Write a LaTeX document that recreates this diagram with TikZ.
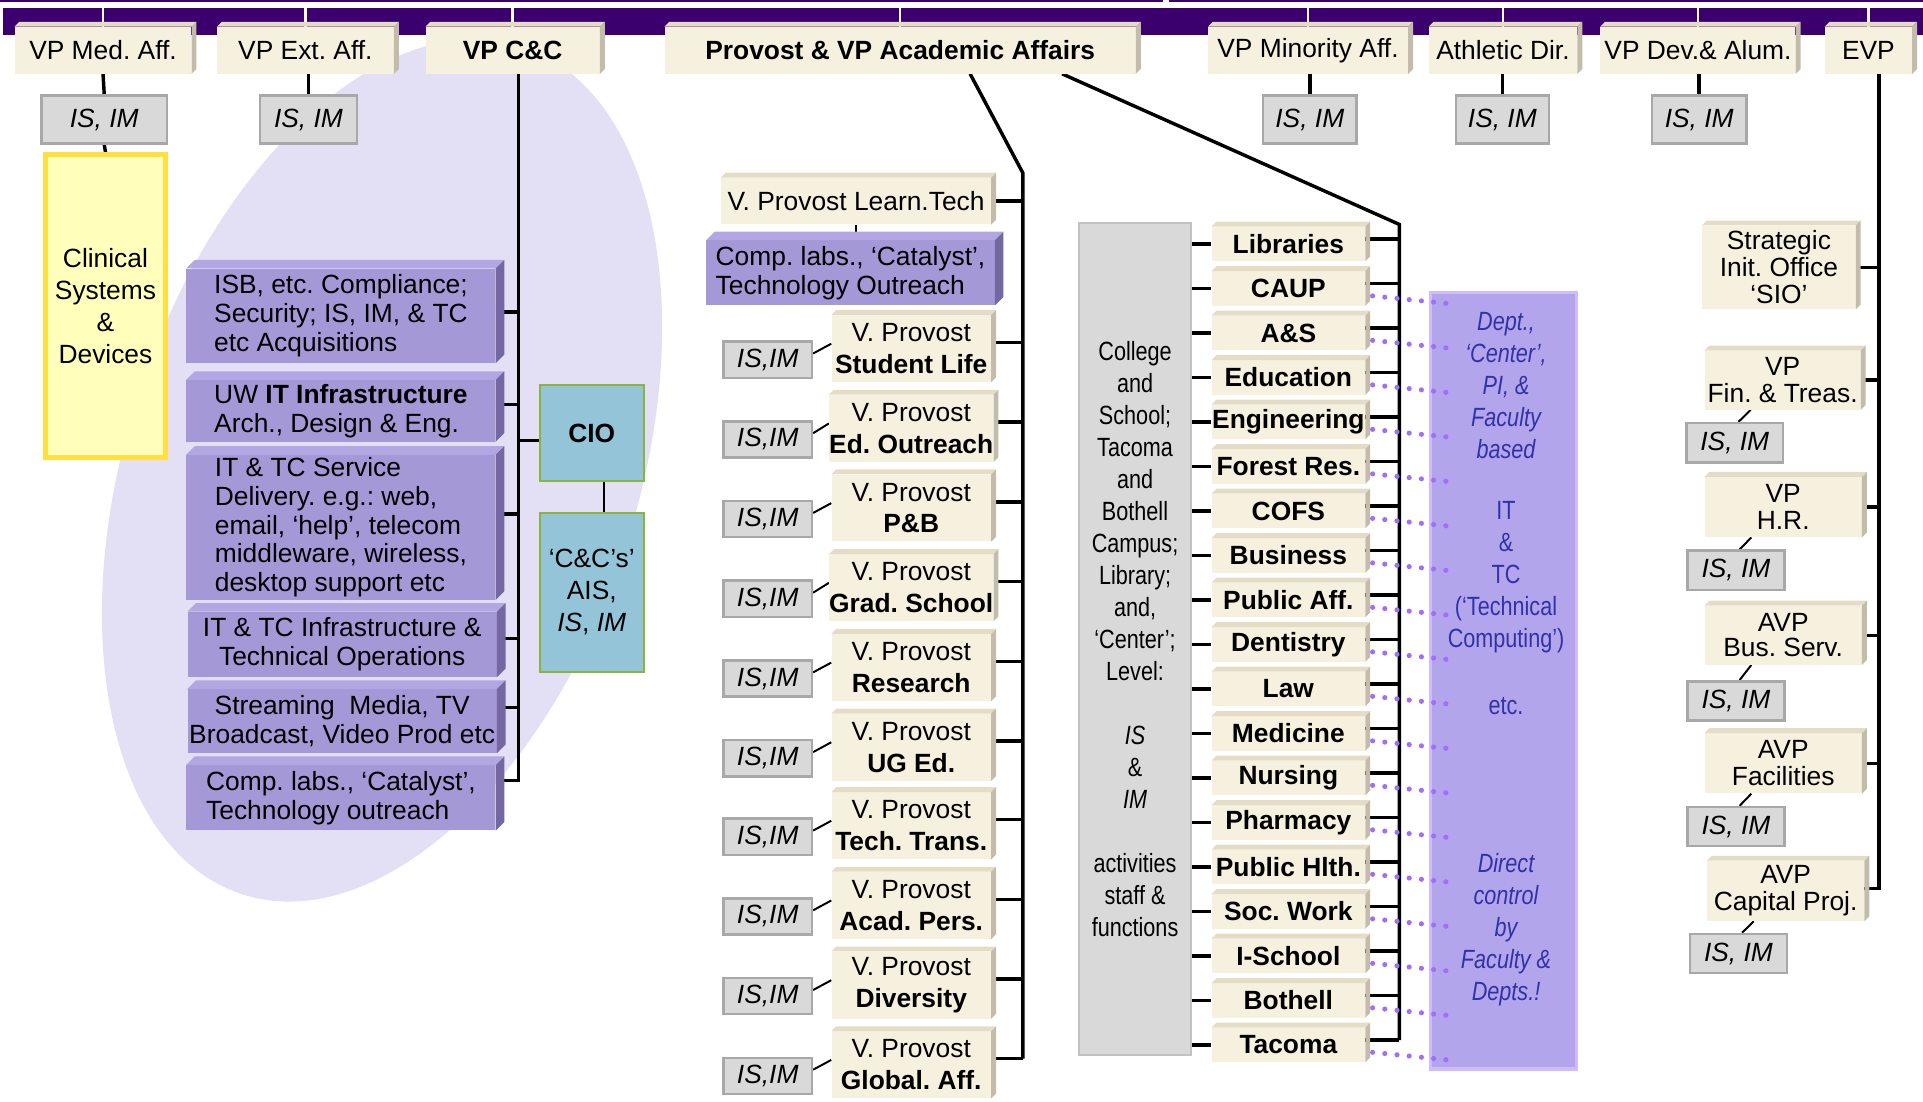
\documentclass[tikz,border=0pt]{standalone}
\usepackage{fontspec}
\setmainfont{Liberation Sans}
\newfontfamily\narrowfont[FakeStretch=0.82]{Liberation Sans}
\usetikzlibrary{calc}
\pgfdeclarelayer{back}
\pgfdeclarelayer{bg}
\pgfsetlayers{back,bg,main}
\definecolor{barP}{RGB}{60,0,110}
\definecolor{beigeF}{RGB}{246,241,222}
\definecolor{beigeT}{RGB}{228,221,198}
\definecolor{beigeS}{RGB}{196,188,170}
\definecolor{purF}{RGB}{164,152,214}
\definecolor{purT}{RGB}{178,167,226}
\definecolor{purS}{RGB}{116,104,162}
\definecolor{ellC}{RGB}{227,224,246}
\definecolor{grayF}{RGB}{217,217,217}
\definecolor{grayB}{RGB}{168,168,168}
\definecolor{yelF}{RGB}{255,255,187}
\definecolor{yelB}{RGB}{255,224,64}
\definecolor{cioF}{RGB}{147,196,216}
\definecolor{cioB}{RGB}{140,180,60}
\definecolor{colF}{RGB}{178,165,236}
\definecolor{colB}{RGB}{206,188,252}
\definecolor{colT}{RGB}{50,50,168}
\definecolor{dotC}{RGB}{160,110,250}
\newcommand\fA{\fontsize{21.5bp}{23.5bp}\selectfont}
\newcommand\fB{\fontsize{21.5bp}{26bp}\selectfont}
\newcommand\fR{\fontsize{21.5bp}{22bp}\selectfont}
\newcommand\fN{\narrowfont\fontsize{21.5bp}{26.1bp}\selectfont}
\newcommand\bev[4]{%
 \fill[#3] (#1.north west) -- ([shift={(#2,-#2)}]#1.north west) -- ([shift={(#2,-#2)}]#1.north east) -- (#1.north east) -- cycle;
 \fill[#4] (#1.north east) -- ([shift={(#2,-#2)}]#1.north east) -- ([shift={(#2,-#2)}]#1.south east) -- (#1.south east) -- cycle;}
\frenchspacing
\begin{document}
\frenchspacing
\begin{tikzpicture}[x=1bp,y=-1bp,
  conn/.style={line width=2.8bp,black},
  thinc/.style={line width=1.6bp,black},
  beigeb/.style={fill=beigeF,inner sep=0pt,font=\fA,align=center},
  pb/.style={fill=purF,inner sep=0pt,font=\fA,minimum width=252bp},
  isb/.style={fill=grayF,draw=grayB,line width=2bp,inner sep=0pt,font=\fA\itshape},
  dotsty/.style={dotC,line width=4.2bp,line cap=round,dash pattern=on 0bp off 10bp}]
\useasboundingbox (0,0) rectangle (1568,898);

\begin{pgfonlayer}{back}
\fill[ellC, rotate around={-18.4:(311.5,383.5)}] (311.5,383.5) ellipse [x radius=208bp, y radius=364bp];
\node[fill=barP,inner sep=0pt,minimum width=1566bp,minimum height=22bp,anchor=north west] (bar) at (2,6) {};
\draw[barP,line width=1.3bp] (0,0.65) -- (948,0.65) (953,0.65) -- (1568,0.65);
\end{pgfonlayer}

% top row
\node[beigeb,minimum width=144bp,minimum height=38bp] (vpmed) at (84,41) {VP Med. Aff.};
\node[beigeb,minimum width=144bp,minimum height=38bp] (vpext) at (249,41) {VP Ext. Aff.};
\node[beigeb,minimum width=142bp,minimum height=38bp] (vpcc) at (418,41) {\textbf{VP C\&C}};
\node[beigeb,minimum width=384bp,minimum height=38bp] (prov) at (734,41) {\textbf{Provost \& VP Academic Affairs}};
\node[beigeb,minimum width=163bp,minimum height=38bp] (vpmin) at (1066.5,41) {VP Minority Aff.};
\node[beigeb,minimum width=121bp,minimum height=38bp] (athl) at (1225.5,41) {Athletic Dir.};
\node[beigeb,minimum width=159bp,minimum height=38bp] (vpdev) at (1384.5,41) {VP Dev.\& Alum.};
\node[beigeb,minimum width=71bp,minimum height=38bp] (evp) at (1523.5,41) {EVP};
\foreach \n in {vpmed,vpext,vpcc,prov,vpmin,athl,vpdev,evp}{\bev{\n}{4}{beigeT}{beigeS}}

% IS IM under top row
\node[isb,minimum width=102bp,minimum height=39bp] (ismed) at (85,97.5) {IS, IM};
\node[isb,minimum width=79bp,minimum height=39bp] (isext) at (251.5,97.5) {IS, IM};
\node[isb,minimum width=76bp,minimum height=39bp] (ismin) at (1068,97.5) {IS, IM};
\node[isb,minimum width=76bp,minimum height=39bp] (isath) at (1225,97.5) {IS, IM};
\node[isb,minimum width=77bp,minimum height=39bp] (isdev) at (1385.5,97.5) {IS, IM};

\node[fill=yelF,draw=yelB,line width=4bp,minimum width=98bp,minimum height=247bp,inner sep=0pt,align=center,font=\fB] (clin) at (86,249.5) {Clinical\\Systems\\\&\\Devices};

% C&C purple boxes
\node[pb,minimum height=77bp,align=left] (pb1) at (278,257.5) {ISB, etc. Compliance;\\Security; IS, IM, \& TC\\etc Acquisitions};
\node[pb,minimum height=50bp,align=left] (pb2) at (278,335) {UW \textbf{IT Infrastructure}\\Arch., Design \& Eng.};
\node[pb,minimum height=118bp,align=left] (pb3) at (278,430) {IT \& TC Service\\Delivery. e.g.: web,\\email, ‘help’, telecom\\middleware, wireless,\\desktop support etc};
\node[pb,minimum height=53bp,align=center] (pb4) at (279,525.5) {IT \& TC Infrastructure \&\\Technical Operations};
\node[pb,minimum height=52bp,align=center] (pb5) at (279,588) {Streaming\ \ Media, TV\\Broadcast, Video Prod etc};
\node[pb,minimum height=53bp,align=left] (pb6) at (278,650.5) {Comp. labs., ‘Catalyst’,\\Technology outreach};
\foreach \n in {pb1,pb2,pb3,pb4,pb5,pb6}{\bev{\n}{7}{purT}{purS}}

\node[fill=cioF,draw=cioB,line width=1.5bp,minimum width=85bp,minimum height=78bp,inner sep=0pt,font=\fA] (cio) at (482.5,353) {\textbf{CIO}};
\node[fill=cioF,draw=cioB,line width=1.5bp,minimum width=85bp,minimum height=130bp,inner sep=0pt,align=center,font=\fB] (ccs) at (482.5,483) {‘C\&C’s’\\AIS,\\\textit{IS}, \textit{IM}};

% Provost side
\node[beigeb,minimum width=220bp,minimum height=38bp] (lt) at (698,164) {V. Provost Learn.Tech};
\bev{lt}{4}{beigeT}{beigeS}
\node[pb,minimum width=235bp,minimum height=53bp,align=left] (cl) at (693.5,222.5) {Comp. labs., ‘Catalyst’,\\Technology Outreach};
\bev{cl}{7}{purT}{purS}
\foreach \i/\T/\txt in {1/253/Student Life,2/318/Ed. Outreach,3/383/P\&B,4/448/Grad. School,5/513/Research,6/578/UG Ed.,7/642/Tech. Trans.,8/707/Acad. Pers.,9/772/Diversity,10/837/Global. Aff.}{
  \node[beigeb,minimum width=130bp,minimum height=54.5bp,font=\fB] (vp\i) at (743,\T+31.25) {V. Provost\\\textbf{\txt}};
  \bev{vp\i}{4}{beigeT}{beigeS}
  \node[isb,minimum width=72bp,minimum height=29.5bp] (isv\i) at (626,\T+40.25) {IS,IM};
}

% College box
\node[fill=grayF,draw=grayB!70,line width=1.5bp,minimum width=91bp,minimum height=679bp,inner sep=0pt,align=center,font=\fN] (coll) at (925.5,521) {College\\and\\School;\\Tacoma\\and\\Bothell\\Campus;\\Library;\\and,\\‘Center’;\\Level:\\~\\\textit{IS}\\\&\\\textit{IM}\\~\\activities\\staff \&\\functions};

% departments
\foreach \i/\txt in {0/Libraries,1/CAUP,2/A\&S,3/Education,4/Engineering,5/Forest Res.,6/COFS,7/Business,8/Public Aff.,9/Dentistry,10/Law,11/Medicine,12/Nursing,13/Pharmacy,14/Public Hlth.,15/Soc. Work,16/I-School,17/Bothell,18/Tacoma}{
  \node[beigeb,minimum width=125bp,minimum height=28bp,font=\fA\bfseries] (d\i) at (1050.5,199+36.28*\i) {\txt};
  \bev{d\i}{4}{beigeT}{beigeS}
}

% column
\node[fill=colF,draw=colB,line width=3bp,minimum width=119bp,minimum height=633bp,inner sep=0pt] (col) at (1226,555) {};
\foreach \i in {1,...,18}{\draw[dotsty] ([shift={(6,6)}]d\i.east) -- ([shift={(75,13)}]d\i.east);}
\node[font=\fN\itshape,text=colT,align=center] (ct1) at (1228,314) {Dept.,\\‘Center’,\\PI, \&\\Faculty\\based};
\node[font=\fN,text=colT,align=center] (ct2) at (1228,470.5) {IT\\\&\\TC\\(‘Technical\\Computing’)};
\node[font=\fN,text=colT] (ct3) at (1228,576) {etc.};
\node[font=\fN\itshape,text=colT,align=center] (ct4) at (1228,758) {Direct\\control\\by\\Faculty \&\\Depts.!};

% EVP side
\node[beigeb,minimum width=125bp,minimum height=68bp,font=\fR] (sio) at (1450.5,218) {Strategic\\Init. Office\\‘SIO’};
\node[beigeb,minimum width=127bp,minimum height=48bp,font=\fR] (fin) at (1453.5,310) {VP\\Fin. \& Treas.};
\node[beigeb,minimum width=128bp,minimum height=49bp,font=\fR] (hr) at (1454,413.5) {VP\\H.R.};
\node[beigeb,minimum width=128bp,minimum height=48bp,font=\fontsize{21.5bp}{20bp}\selectfont] (bsv) at (1454,518) {AVP\\Bus. Serv.};
\node[beigeb,minimum width=128bp,minimum height=49bp,font=\fR] (fac) at (1454,622.5) {AVP\\Facilities};
\node[beigeb,minimum width=128bp,minimum height=49bp,font=\fR] (cap) at (1456,726.5) {AVP\\Capital Proj.};
\foreach \n in {sio,fin,hr,bsv,fac,cap}{\bev{\n}{4}{beigeT}{beigeS}}
\node[isb,minimum width=79bp,minimum height=32bp] (isfin) at (1414.5,361) {IS, IM};
\node[isb,minimum width=79bp,minimum height=32bp] (ishr) at (1415.5,465) {IS, IM};
\node[isb,minimum width=79bp,minimum height=32bp] (isbsv) at (1415.5,571.5) {IS, IM};
\node[isb,minimum width=79bp,minimum height=32bp] (isfac) at (1415.5,674) {IS, IM};
\node[isb,minimum width=79bp,minimum height=32bp] (iscap) at (1417.5,777.5) {IS, IM};

% connectors
\begin{pgfonlayer}{bg}
\foreach \n in {vpmed,vpext,vpcc,prov,vpmin,athl,vpdev,evp}{\draw[white,line width=2bp] (\n.north |- bar.north) -- (\n.north);}
\draw[conn] (vpmed.south) -- (ismed.north);
\draw[conn] (ismed.south) -- (clin.north);
\draw[conn] (isext.north |- vpext.south) -- (isext.north);
\draw[conn] (ismin.north |- vpmin.south) -- (ismin.north);
\draw[conn] (isath.north |- athl.south) -- (isath.north);
\draw[conn] (isdev.north |- vpdev.south) -- (isdev.north);
% C&C bus
\coordinate (ccb) at ([xshift=5bp]vpcc.south);
\draw[conn] (ccb) |- ([yshift=14bp]pb6.east);
\foreach \n/\s in {pb1/3bp,pb2/5bp,pb3/11bp,pb4/5bp,pb5/11bp}{\coordinate (tk) at ([yshift=\s]\n.east); \draw[conn] (tk) -- (tk -| ccb);}
\coordinate (ciot) at ([yshift=-6bp]cio.west);
\draw[conn] (ciot -| ccb) -- (ciot);
\draw[thinc] ([xshift=10bp]cio.south) -- ([xshift=10bp]ccs.north);
% Provost buses
\coordinate (pvA) at (834,141);
\coordinate (pvB) at (1141,183);
\foreach \i in {1,...,10}{
  \coordinate (pt\i) at ([yshift=5bp]vp\i.east);
  \draw[conn] (pt\i) -- (pt\i -| pvA);
  \draw[thinc] ([yshift=5bp]isv\i.east) -- ([yshift=4bp]vp\i.west);
}
\draw[conn] ([xshift=57bp]prov.south) -- (pvA) -- (pvA |- pt10);
\draw[conn] (lt.east) -- (lt.east -| pvA);
\draw[thinc] (lt.south) -- (lt.south |- cl.north);
\foreach \i in {0,...,18}{
  \draw[conn] (coll.east |- d\i.west) -- (d\i.west);
  \coordinate (rt\i) at ([yshift=4bp]d\i.east);
  \draw[conn] (rt\i) -- (rt\i -| pvB);
}
\draw[conn] ([xshift=132bp]prov.south) -- (pvB) -- (pvB |- rt18);
% EVP bus
\coordinate (eb) at ([xshift=8.5bp]evp.south);
\draw[conn] (eb) |- ([yshift=2bp]cap.east);
\foreach \n in {sio,fin,hr,bsv,fac}{\draw[conn] (\n.east) -- (\n.east -| eb);}
\foreach \a/\b in {fin/isfin,hr/ishr,bsv/isbsv,fac/isfac,cap/iscap}{\draw[thinc] ([xshift=-26bp]\a.south) -- ([xshift=3bp]\b.north);}
\end{pgfonlayer}
\end{tikzpicture}
\end{document}
